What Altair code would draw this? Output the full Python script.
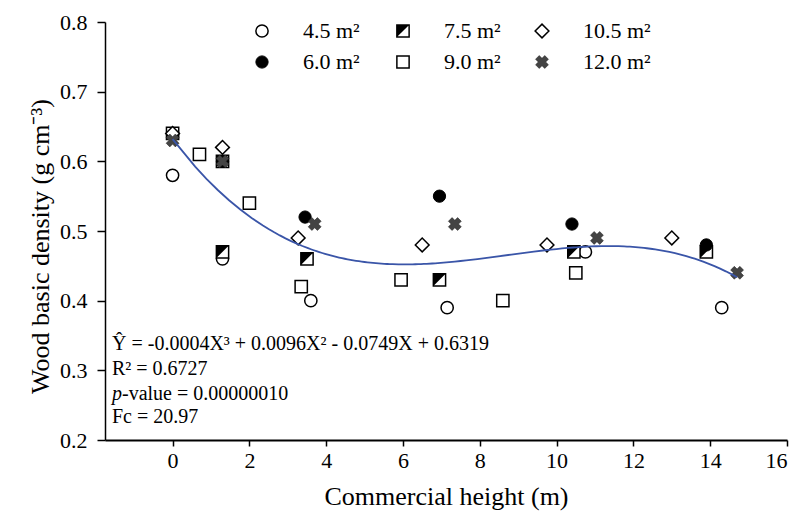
import altair as alt
import pandas as pd

# ---- data ----
x45 = [0, 1.3, 3.6, 7.15, 10.75, 14.3]
y45 = [0.58, 0.46, 0.40, 0.39, 0.47, 0.39]
x60 = [1.3, 3.45, 6.95, 10.4, 13.9]
y60 = [0.60, 0.52, 0.55, 0.51, 0.48]
x75 = [1.3, 1.3, 3.5, 6.95, 10.45, 13.9]
y75 = [0.60, 0.47, 0.46, 0.43, 0.47, 0.47]
x90 = [0, 0.7, 2.0, 3.35, 5.95, 8.6, 10.5]
y90 = [0.64, 0.61, 0.54, 0.42, 0.43, 0.40, 0.44]
x105 = [0, 1.3, 3.27, 6.5, 9.75, 13.0]
y105 = [0.64, 0.62, 0.49, 0.48, 0.48, 0.49]
x120 = [0, 1.3, 3.7, 7.35, 11.05, 14.7]
y120 = [0.63, 0.60, 0.51, 0.51, 0.49, 0.44]

series_names = ["4.5 m²", "6.0 m²", "7.5 m²", "9.0 m²", "10.5 m²", "12.0 m²"]
x_ticks = [0, 2, 4, 6, 8, 10, 12, 14, 16]
y_ticks = [0.2, 0.3, 0.4, 0.5, 0.6, 0.7, 0.8]
x_title = "Commercial height (m)"
y_title = "Wood basic density (g cm⁻³)"
eq_line = "Ŷ = -0.0004X³ + 0.0096X² - 0.0749X + 0.6319"
r2_line = "R² = 0.6727"
p_italic = "p"
p_line = "-value = 0.00000010"
fc_line = "Fc = 20.97"

FONT = "Times New Roman, Liberation Serif, serif"

frames = []
for name, xs, ys in zip(series_names, [x45, x60, x75, x90, x105, x120],
                        [y45, y60, y75, y90, y105, y120]):
    frames.append(pd.DataFrame({"h": xs, "d": ys, "s": name}))
df = pd.concat(frames, ignore_index=True)
one = pd.DataFrame({"k": [0]})

xs_ = alt.Scale(domain=[-1.76, 16], nice=False, zero=False)
ys_ = alt.Scale(domain=[0.2, 0.8], nice=False, zero=False)

X = alt.X("h:Q", scale=xs_, axis=alt.Axis(
    values=x_ticks, title=x_title, grid=False, tickSize=6, tickWidth=1.5,
    domainWidth=2, domainColor="black", tickColor="black",
    labelFont=FONT, labelFontSize=22, labelColor="black", labelPadding=4,
    titleFont=FONT, titleFontSize=26, titleFontWeight="normal", titleColor="black",
    titlePadding=12))
Y = alt.Y("d:Q", scale=ys_, axis=alt.Axis(
    values=y_ticks, format=".1f", title=y_title, grid=False, tickSize=8, tickWidth=1.5,
    domainWidth=1.5, domainColor="black", tickColor="black",
    labelFont=FONT, labelFontSize=22, labelColor="black", labelPadding=10,
    titleFont=FONT, titleFontSize=26, titleFontWeight="normal", titleColor="black",
    titlePadding=6, titleY=224))

SIZE = 150
TRI = "M-1,-1L1,-1L-1,1Z"


def pts(name, **kw):
    return alt.Chart(df).transform_filter(alt.datum.s == name).mark_point(opacity=1, **kw).encode(x=X, y=Y)


curve = alt.Chart(df).transform_regression("h", "d", method="poly", order=3, extent=[0, 14.7]).mark_line(
    color="#3a55a8", strokeWidth=1.8).encode(x=X, y=Y)

STY = {
    0: [dict(shape="circle", size=SIZE, filled=True, fill="white", stroke="black", strokeWidth=1.5)],
    1: [dict(shape="circle", size=SIZE, filled=True, fill="black", stroke="black", strokeWidth=1)],
    2: [dict(shape="square", size=SIZE, filled=True, fill="white", stroke="black", strokeWidth=1.5),
        dict(shape=TRI, size=SIZE, filled=True, fill="black", strokeWidth=0)],
    3: [dict(shape="square", size=SIZE, filled=True, fill="white", stroke="black", strokeWidth=1.5)],
    4: [dict(shape="diamond", size=190, filled=True, fill="white", stroke="black", strokeWidth=1.5)],
    5: [dict(shape="cross", angle=45, size=170, filled=True, fill="#444444", stroke="#222222", strokeWidth=0.5)],
}

layers = []
for si in [3, 4, 0, 2, 1, 5]:
    for st in STY[si]:
        layers.append(pts(series_names[si], **st))
layers.append(curve)

# ---- legend (manual, inside the plot; pixel offsets within plot area) ----
leg_cols = [157, 298, 437]
leg_rows = [9, 40]
text_dx = 41
order = [0, 2, 4, 1, 3, 5]  # legend slot -> series index

legend_layers = []
for pos, si in enumerate(order):
    c, r = pos % 3, pos // 3
    for st in STY[si]:
        legend_layers.append(alt.Chart(one).mark_point(opacity=1, **st).encode(
            x=alt.value(leg_cols[c]), y=alt.value(leg_rows[r])))
    legend_layers.append(alt.Chart(one).mark_text(
        text=series_names[si], font=FONT, fontSize=22, align="left", baseline="middle", color="black"
    ).encode(x=alt.value(leg_cols[c] + text_dx), y=alt.value(leg_rows[r])))


def txt(s, x, y, **kw):
    return alt.Chart(one).mark_text(text=s, font=FONT, fontSize=20, align="left", baseline="middle",
                                    color="black", **kw).encode(x=alt.value(x), y=alt.value(y))


ann = [
    txt(eq_line, 7, 322),
    txt(r2_line, 7, 347),
    txt(p_italic, 7, 372, fontStyle="italic"),
    txt(p_line, 17, 372),
    txt(fc_line, 7, 395),
]

chart = alt.layer(*layers, *legend_layers, *ann).properties(
    width=682, height=418,
    padding={"left": 105, "top": 22, "right": 12, "bottom": 89},
    autosize=alt.AutoSizeParams(type="none"),
    background="white",
).configure_view(stroke=None)

chart.save("out.html", embed_options={"renderer": "svg", "actions": False})
